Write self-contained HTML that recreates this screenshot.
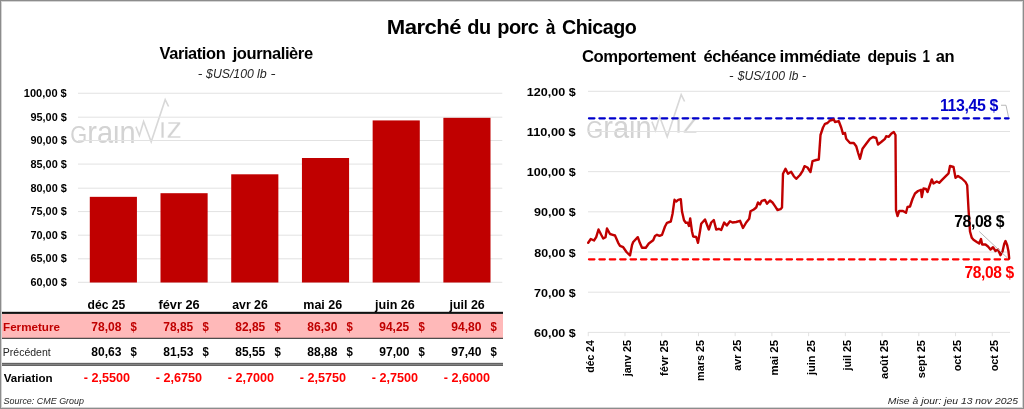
<!DOCTYPE html>
<html lang="fr"><head><meta charset="utf-8"><title>Marché du porc à Chicago</title>
<style>
html,body{margin:0;padding:0;background:#fff}
svg{display:block}
text{font-family:"Liberation Sans",sans-serif;fill:#000}
.b{font-weight:bold}
.i{font-style:italic}
</style></head><body>
<svg width="1024" height="409" viewBox="0 0 1024 409">
<rect x="0" y="0" width="1024" height="409" fill="#fff"/>
<g id="shapes">
<g transform="translate(0,0)"><clipPath id="cq0"><rect x="60" y="125.6" width="80" height="20"/></clipPath><text x="70.3" y="142.9" font-size="32" style="fill:#d3d3d3" clip-path="url(#cq0)" textLength="65.3" lengthAdjust="spacingAndGlyphs"><tspan font-size="24">G</tspan>rain</text><polyline points="135.9,126.6 139.4,135.6 143.6,121.5 151.2,141.8 165.2,99.7 168.6,106.5" fill="none" stroke="#d8d8d8" stroke-width="1.6" stroke-linejoin="miter"/><clipPath id="cp0"><rect x="155" y="121.5" width="40" height="20"/></clipPath><text x="159.1" y="137.5" font-size="30" style="fill:#d3d3d3" stroke="#fff" stroke-width="0.4" clip-path="url(#cp0)" textLength="23.1" lengthAdjust="spacingAndGlyphs">iz</text></g>
<g transform="translate(516,-5.0)"><clipPath id="cq516"><rect x="60" y="125.6" width="80" height="20"/></clipPath><text x="70.3" y="142.9" font-size="32" style="fill:#d3d3d3" clip-path="url(#cq516)" textLength="65.3" lengthAdjust="spacingAndGlyphs"><tspan font-size="24">G</tspan>rain</text><polyline points="135.9,126.6 139.4,135.6 143.6,121.5 151.2,141.8 165.2,99.7 168.6,106.5" fill="none" stroke="#d8d8d8" stroke-width="1.6" stroke-linejoin="miter"/><clipPath id="cp516"><rect x="155" y="121.5" width="40" height="20"/></clipPath><text x="159.1" y="137.5" font-size="30" style="fill:#d3d3d3" stroke="#fff" stroke-width="0.4" clip-path="url(#cp516)" textLength="23.1" lengthAdjust="spacingAndGlyphs">iz</text></g>
<line x1="78" x2="502.3" y1="93.25" y2="93.25" stroke="#e2e2e2" stroke-width="1"/>
<line x1="78" x2="502.3" y1="117.20" y2="117.20" stroke="#e2e2e2" stroke-width="1"/>
<line x1="78" x2="502.3" y1="140.50" y2="140.50" stroke="#e2e2e2" stroke-width="1"/>
<line x1="78" x2="502.3" y1="164.10" y2="164.10" stroke="#e2e2e2" stroke-width="1"/>
<line x1="78" x2="502.3" y1="188.20" y2="188.20" stroke="#e2e2e2" stroke-width="1"/>
<line x1="78" x2="502.3" y1="211.60" y2="211.60" stroke="#e2e2e2" stroke-width="1"/>
<line x1="78" x2="502.3" y1="235.20" y2="235.20" stroke="#e2e2e2" stroke-width="1"/>
<line x1="78" x2="502.3" y1="258.80" y2="258.80" stroke="#e2e2e2" stroke-width="1"/>
<line x1="78" x2="502.3" y1="282.30" y2="282.30" stroke="#e2e2e2" stroke-width="1"/>
<rect x="89.79" y="196.84" width="47.14" height="85.66" fill="#c00000"/>
<rect x="160.50" y="193.20" width="47.14" height="89.30" fill="#c00000"/>
<rect x="231.22" y="174.30" width="47.14" height="108.20" fill="#c00000"/>
<rect x="301.94" y="158.00" width="47.14" height="124.50" fill="#c00000"/>
<rect x="372.65" y="120.42" width="47.14" height="162.08" fill="#c00000"/>
<rect x="443.37" y="117.83" width="47.14" height="164.67" fill="#c00000"/>
<rect x="1" y="314" width="502" height="24" fill="#ffb9b9"/>
<rect x="1" y="311.8" width="502" height="2.1" fill="#111"/>
<rect x="1" y="337.8" width="502" height="1" fill="#222"/>
<rect x="1" y="362.9" width="502" height="3" fill="#888"/>
<rect x="1" y="362.9" width="502" height="1" fill="#606060"/>
<rect x="1" y="364.9" width="502" height="1" fill="#606060"/>
<line x1="588" x2="1010" y1="91.30" y2="91.30" stroke="#e2e2e2" stroke-width="1"/>
<line x1="588" x2="1010" y1="131.48" y2="131.48" stroke="#e2e2e2" stroke-width="1"/>
<line x1="588" x2="1010" y1="171.66" y2="171.66" stroke="#e2e2e2" stroke-width="1"/>
<line x1="588" x2="1010" y1="211.84" y2="211.84" stroke="#e2e2e2" stroke-width="1"/>
<line x1="588" x2="1010" y1="252.02" y2="252.02" stroke="#e2e2e2" stroke-width="1"/>
<line x1="588" x2="1010" y1="292.20" y2="292.20" stroke="#e2e2e2" stroke-width="1"/>
<line x1="588" x2="1010" y1="332.38" y2="332.38" stroke="#e2e2e2" stroke-width="1"/>
<line x1="588.25" x2="588.25" y1="332" y2="336.2" stroke="#e2e2e2" stroke-width="1"/>
<line x1="624.98" x2="624.98" y1="332" y2="336.2" stroke="#e2e2e2" stroke-width="1"/>
<line x1="661.71" x2="661.71" y1="332" y2="336.2" stroke="#e2e2e2" stroke-width="1"/>
<line x1="698.44" x2="698.44" y1="332" y2="336.2" stroke="#e2e2e2" stroke-width="1"/>
<line x1="735.17" x2="735.17" y1="332" y2="336.2" stroke="#e2e2e2" stroke-width="1"/>
<line x1="771.90" x2="771.90" y1="332" y2="336.2" stroke="#e2e2e2" stroke-width="1"/>
<line x1="808.63" x2="808.63" y1="332" y2="336.2" stroke="#e2e2e2" stroke-width="1"/>
<line x1="845.36" x2="845.36" y1="332" y2="336.2" stroke="#e2e2e2" stroke-width="1"/>
<line x1="882.09" x2="882.09" y1="332" y2="336.2" stroke="#e2e2e2" stroke-width="1"/>
<line x1="918.82" x2="918.82" y1="332" y2="336.2" stroke="#e2e2e2" stroke-width="1"/>
<line x1="955.55" x2="955.55" y1="332" y2="336.2" stroke="#e2e2e2" stroke-width="1"/>
<line x1="992.28" x2="992.28" y1="332" y2="336.2" stroke="#e2e2e2" stroke-width="1"/>
<line x1="588.98" x2="1008.6" y1="118.25" y2="118.25" stroke="#0000cc" stroke-width="2.25" stroke-dasharray="5.45,4.95" stroke-linecap="round"/>
<line x1="588.98" x2="1008.6" y1="259.25" y2="259.25" stroke="#ff0000" stroke-width="2.25" stroke-dasharray="5.45,4.95" stroke-linecap="round"/>
<polyline points="588.2,242.8 590.8,239.0 594.0,240.5 596.2,237.2 598.5,229.5 601.2,234.8 603.2,238.5 605.5,237.2 607.0,228.5 610.0,234.0 612.8,234.8 615.0,235.5 618.2,242.8 620.0,245.8 623.2,247.2 626.5,252.0 630.0,255.5 632.0,245.2 633.2,242.0 637.8,237.2 639.8,242.8 642.0,247.8 645.8,247.8 648.8,243.5 651.5,241.5 653.2,240.2 655.0,236.0 657.0,234.8 659.5,235.8 662.0,234.8 665.0,226.5 667.0,222.8 670.8,221.5 672.5,214.0 674.5,199.8 676.2,201.5 678.2,199.8 680.8,199.2 682.0,211.5 684.0,220.2 685.8,222.8 687.8,222.8 689.0,226.0 690.2,218.5 692.0,231.5 693.2,236.5 696.2,237.0 698.0,242.8 700.0,231.2 701.2,223.8 705.0,219.5 708.8,229.5 711.2,222.5 713.8,220.0 716.2,229.5 718.8,228.8 721.2,230.0 724.2,222.5 726.8,225.5 730.0,221.2 732.5,222.5 736.2,222.0 740.0,220.8 743.0,228.0 746.2,222.5 749.2,218.8 750.5,211.2 753.8,209.5 756.2,207.5 758.0,202.5 760.0,204.5 761.8,200.8 765.0,200.0 767.0,203.8 770.0,200.5 772.5,202.5 775.0,206.2 777.5,210.0 780.5,209.2 782.0,207.5 783.0,173.8 785.5,168.8 788.0,173.8 791.2,171.8 793.8,176.2 796.2,178.8 800.0,175.0 802.5,171.2 804.5,166.2 807.5,167.5 810.5,172.0 812.5,161.2 816.2,160.0 818.8,159.5 820.5,135.0 823.0,127.5 825.0,123.8 827.5,123.0 830.0,120.5 833.8,119.5 835.0,122.0 838.8,121.2 841.2,127.5 843.0,133.8 845.0,133.0 846.2,138.8 850.0,143.0 853.8,143.0 856.2,146.2 858.0,152.5 860.0,158.8 862.5,148.8 866.2,143.8 870.0,138.8 873.0,137.0 876.2,138.0 878.0,144.5 881.2,142.0 885.0,138.8 886.2,136.2 888.8,136.8 891.2,133.8 893.8,132.0 895.5,135.0 896.0,210.2 897.5,216.0 899.2,211.0 903.0,211.0 906.0,212.8 907.5,207.0 910.0,206.5 912.5,199.0 915.0,193.5 918.0,191.0 921.0,189.8 921.8,197.0 923.5,188.5 926.0,189.0 927.5,192.0 931.8,179.5 933.5,183.5 936.8,181.5 939.2,182.8 941.8,180.2 946.8,175.2 948.5,173.5 950.0,166.0 953.5,167.0 955.5,177.8 958.0,176.0 961.8,178.5 965.5,182.0 967.2,185.2 968.5,209.0 970.0,231.5 971.8,237.8 973.5,239.8 976.8,242.0 979.2,243.5 981.0,239.0 982.2,244.5 985.5,244.5 988.0,246.5 990.5,249.5 993.0,247.2 995.5,251.0 998.0,249.5 1000.5,255.2 1002.5,251.5 1004.2,244.0 1005.5,241.0 1007.2,245.2 1008.5,251.5 1009.2,258.5" fill="none" stroke="#c00000" stroke-width="2.4" stroke-linejoin="round" stroke-linecap="round"/>
<polyline points="1001,105.25 1006,105.25 1008.5,117" fill="none" stroke="#b0b0b0" stroke-width="0.9"/>
<line x1="979.25" y1="231.5" x2="1007.5" y2="258" stroke="#b0b0b0" stroke-width="0.9"/>
<rect x="1.5" y="1.5" width="1021" height="406" fill="none" stroke="#d4d4d4" stroke-width="1"/>
<rect x="0.5" y="0.5" width="1023" height="408" fill="none" stroke="#8c8c8c" stroke-width="1"/>
</g>
<g id="texts">
<text id="t0" x="386.85" y="34.4" font-size="20" class="b" style="fill:#000;letter-spacing:-0.5px" textLength="74.14" lengthAdjust="spacingAndGlyphs">Marché</text>
<text id="t1" x="467.25" y="34.4" font-size="20" class="b" style="fill:#000;letter-spacing:-0.5px" textLength="23.35" lengthAdjust="spacingAndGlyphs">du</text>
<text id="t2" x="497.18" y="34.4" font-size="20" class="b" style="fill:#000;letter-spacing:-0.5px" textLength="41.30" lengthAdjust="spacingAndGlyphs">porc</text>
<text id="t3" x="545.84" y="34.4" font-size="20" class="b" style="fill:#000;letter-spacing:-0.5px" textLength="9.27" lengthAdjust="spacingAndGlyphs">à</text>
<text id="t4" x="562.04" y="34.4" font-size="20" class="b" style="fill:#000;letter-spacing:-0.5px" textLength="74.22" lengthAdjust="spacingAndGlyphs">Chicago</text>
<text id="t5" x="159.57" y="59.2" font-size="16.5" class="b" style="fill:#000;letter-spacing:-0.4px" textLength="65.71" lengthAdjust="spacingAndGlyphs">Variation</text>
<text id="t6" x="232.67" y="59.2" font-size="16.5" class="b" style="fill:#000;letter-spacing:-0.4px" textLength="80.01" lengthAdjust="spacingAndGlyphs">journalière</text>
<text id="t7" x="197.72" y="77.9" font-size="13.5" class="i" style="fill:#262626" textLength="4.62" lengthAdjust="spacingAndGlyphs">-</text>
<text id="t8" x="206.07" y="77.9" font-size="13.5" class="i" style="fill:#262626" textLength="47.75" lengthAdjust="spacingAndGlyphs">$US/100</text>
<text id="t9" x="256.96" y="77.9" font-size="13.5" class="i" style="fill:#262626" textLength="9.73" lengthAdjust="spacingAndGlyphs">lb</text>
<text id="t10" x="270.48" y="77.9" font-size="13.5" class="i" style="fill:#262626" textLength="5.04" lengthAdjust="spacingAndGlyphs">-</text>
<text id="t11" x="581.92" y="61.7" font-size="16.5" class="b" style="fill:#000;letter-spacing:-0.4px" textLength="113.81" lengthAdjust="spacingAndGlyphs">Comportement</text>
<text id="t12" x="703.38" y="61.7" font-size="16.5" class="b" style="fill:#000;letter-spacing:-0.4px" textLength="72.34" lengthAdjust="spacingAndGlyphs">échéance</text>
<text id="t13" x="779.56" y="61.7" font-size="16.5" class="b" style="fill:#000;letter-spacing:-0.4px" textLength="80.88" lengthAdjust="spacingAndGlyphs">immédiate</text>
<text id="t14" x="867.52" y="61.7" font-size="16.5" class="b" style="fill:#000;letter-spacing:-0.4px" textLength="48.86" lengthAdjust="spacingAndGlyphs">depuis</text>
<text id="t15" x="922.39" y="61.7" font-size="16.5" class="b" style="fill:#000;letter-spacing:-0.4px" textLength="7.12" lengthAdjust="spacingAndGlyphs">1</text>
<text id="t16" x="935.76" y="61.7" font-size="16.5" class="b" style="fill:#000;letter-spacing:-0.4px" textLength="18.43" lengthAdjust="spacingAndGlyphs">an</text>
<text id="t17" x="729.07" y="79.6" font-size="13.5" class="i" style="fill:#262626" textLength="4.55" lengthAdjust="spacingAndGlyphs">-</text>
<text id="t18" x="737.64" y="79.6" font-size="13.5" class="i" style="fill:#262626" textLength="47.51" lengthAdjust="spacingAndGlyphs">$US/100</text>
<text id="t19" x="789.03" y="79.6" font-size="13.5" class="i" style="fill:#262626" textLength="9.25" lengthAdjust="spacingAndGlyphs">lb</text>
<text id="t20" x="802.08" y="79.6" font-size="13.5" class="i" style="fill:#262626" textLength="4.13" lengthAdjust="spacingAndGlyphs">-</text>
<text id="t21" x="23.77" y="96.7" font-size="10.2" class="b" style="fill:#000" textLength="43.00" lengthAdjust="spacingAndGlyphs">100,00 $</text>
<text id="t22" x="30.46" y="120.65" font-size="10.2" class="b" style="fill:#000" textLength="36.33" lengthAdjust="spacingAndGlyphs">95,00 $</text>
<text id="t23" x="30.46" y="143.95" font-size="10.2" class="b" style="fill:#000" textLength="36.33" lengthAdjust="spacingAndGlyphs">90,00 $</text>
<text id="t24" x="30.45" y="167.55" font-size="10.2" class="b" style="fill:#000" textLength="36.35" lengthAdjust="spacingAndGlyphs">85,00 $</text>
<text id="t25" x="30.45" y="191.65" font-size="10.2" class="b" style="fill:#000" textLength="36.35" lengthAdjust="spacingAndGlyphs">80,00 $</text>
<text id="t26" x="30.46" y="215.05" font-size="10.2" class="b" style="fill:#000" textLength="36.33" lengthAdjust="spacingAndGlyphs">75,00 $</text>
<text id="t27" x="30.46" y="238.65" font-size="10.2" class="b" style="fill:#000" textLength="36.33" lengthAdjust="spacingAndGlyphs">70,00 $</text>
<text id="t28" x="30.46" y="262.25" font-size="10.2" class="b" style="fill:#000" textLength="36.33" lengthAdjust="spacingAndGlyphs">65,00 $</text>
<text id="t29" x="30.46" y="285.75" font-size="10.2" class="b" style="fill:#000" textLength="36.33" lengthAdjust="spacingAndGlyphs">60,00 $</text>
<text id="t30" x="526.79" y="95.9" font-size="11.6" class="b" style="fill:#000" textLength="48.92" lengthAdjust="spacingAndGlyphs">120,00 $</text>
<text id="t31" x="526.79" y="136.08" font-size="11.6" class="b" style="fill:#000" textLength="48.92" lengthAdjust="spacingAndGlyphs">110,00 $</text>
<text id="t32" x="526.79" y="176.26" font-size="11.6" class="b" style="fill:#000" textLength="48.92" lengthAdjust="spacingAndGlyphs">100,00 $</text>
<text id="t33" x="534.01" y="216.44" font-size="11.6" class="b" style="fill:#000" textLength="41.73" lengthAdjust="spacingAndGlyphs">90,00 $</text>
<text id="t34" x="534.25" y="256.62" font-size="11.6" class="b" style="fill:#000" textLength="41.50" lengthAdjust="spacingAndGlyphs">80,00 $</text>
<text id="t35" x="534.01" y="296.8" font-size="11.6" class="b" style="fill:#000" textLength="41.73" lengthAdjust="spacingAndGlyphs">70,00 $</text>
<text id="t36" x="534.01" y="336.98" font-size="11.6" class="b" style="fill:#000" textLength="41.73" lengthAdjust="spacingAndGlyphs">60,00 $</text>
<text id="t37" x="87.53" y="308.5" font-size="12.5" class="b" style="fill:#000" textLength="37.70" lengthAdjust="spacingAndGlyphs">déc 25</text>
<text id="t38" x="158.52" y="308.5" font-size="12.5" class="b" style="fill:#000" textLength="41.20" lengthAdjust="spacingAndGlyphs">févr 26</text>
<text id="t39" x="232.26" y="308.5" font-size="12.5" class="b" style="fill:#000" textLength="35.48" lengthAdjust="spacingAndGlyphs">avr 26</text>
<text id="t40" x="303.28" y="308.5" font-size="12.5" class="b" style="fill:#000" textLength="38.94" lengthAdjust="spacingAndGlyphs">mai 26</text>
<text id="t41" x="375.01" y="308.5" font-size="12.5" class="b" style="fill:#000" textLength="39.74" lengthAdjust="spacingAndGlyphs">juin 26</text>
<text id="t42" x="449.50" y="308.5" font-size="12.5" class="b" style="fill:#000" textLength="35.26" lengthAdjust="spacingAndGlyphs">juil 26</text>
<text id="t43" x="91.33" y="331" font-size="12.8" class="b" style="fill:#c00000" textLength="30.15" lengthAdjust="spacingAndGlyphs">78,08</text>
<text id="t44" x="130.61" y="331" font-size="12.8" class="b" style="fill:#c00000" textLength="6.33" lengthAdjust="spacingAndGlyphs">$</text>
<text id="t45" x="91.33" y="355.9" font-size="12.8" class="b" style="fill:#000" textLength="30.15" lengthAdjust="spacingAndGlyphs">80,63</text>
<text id="t46" x="130.61" y="355.9" font-size="12.8" class="b" style="fill:#000" textLength="6.33" lengthAdjust="spacingAndGlyphs">$</text>
<text id="t47" x="83.78" y="382" font-size="12.8" class="b" style="fill:#ff0000" textLength="46.35" lengthAdjust="spacingAndGlyphs">- 2,5500</text>
<text id="t48" x="163.32" y="331" font-size="12.8" class="b" style="fill:#c00000" textLength="29.92" lengthAdjust="spacingAndGlyphs">78,85</text>
<text id="t49" x="202.61" y="331" font-size="12.8" class="b" style="fill:#c00000" textLength="6.33" lengthAdjust="spacingAndGlyphs">$</text>
<text id="t50" x="163.33" y="355.9" font-size="12.8" class="b" style="fill:#000" textLength="30.15" lengthAdjust="spacingAndGlyphs">81,53</text>
<text id="t51" x="202.61" y="355.9" font-size="12.8" class="b" style="fill:#000" textLength="6.33" lengthAdjust="spacingAndGlyphs">$</text>
<text id="t52" x="155.78" y="382" font-size="12.8" class="b" style="fill:#ff0000" textLength="46.35" lengthAdjust="spacingAndGlyphs">- 2,6750</text>
<text id="t53" x="235.32" y="331" font-size="12.8" class="b" style="fill:#c00000" textLength="29.91" lengthAdjust="spacingAndGlyphs">82,85</text>
<text id="t54" x="274.61" y="331" font-size="12.8" class="b" style="fill:#c00000" textLength="6.33" lengthAdjust="spacingAndGlyphs">$</text>
<text id="t55" x="235.32" y="355.9" font-size="12.8" class="b" style="fill:#000" textLength="29.91" lengthAdjust="spacingAndGlyphs">85,55</text>
<text id="t56" x="274.61" y="355.9" font-size="12.8" class="b" style="fill:#000" textLength="6.33" lengthAdjust="spacingAndGlyphs">$</text>
<text id="t57" x="227.78" y="382" font-size="12.8" class="b" style="fill:#ff0000" textLength="46.35" lengthAdjust="spacingAndGlyphs">- 2,7000</text>
<text id="t58" x="307.33" y="331" font-size="12.8" class="b" style="fill:#c00000" textLength="30.15" lengthAdjust="spacingAndGlyphs">86,30</text>
<text id="t59" x="346.61" y="331" font-size="12.8" class="b" style="fill:#c00000" textLength="6.33" lengthAdjust="spacingAndGlyphs">$</text>
<text id="t60" x="307.32" y="355.9" font-size="12.8" class="b" style="fill:#000" textLength="30.16" lengthAdjust="spacingAndGlyphs">88,88</text>
<text id="t61" x="346.61" y="355.9" font-size="12.8" class="b" style="fill:#000" textLength="6.33" lengthAdjust="spacingAndGlyphs">$</text>
<text id="t62" x="299.78" y="382" font-size="12.8" class="b" style="fill:#ff0000" textLength="46.35" lengthAdjust="spacingAndGlyphs">- 2,5750</text>
<text id="t63" x="379.32" y="331" font-size="12.8" class="b" style="fill:#c00000" textLength="29.91" lengthAdjust="spacingAndGlyphs">94,25</text>
<text id="t64" x="418.61" y="331" font-size="12.8" class="b" style="fill:#c00000" textLength="6.33" lengthAdjust="spacingAndGlyphs">$</text>
<text id="t65" x="379.32" y="355.9" font-size="12.8" class="b" style="fill:#000" textLength="30.15" lengthAdjust="spacingAndGlyphs">97,00</text>
<text id="t66" x="418.61" y="355.9" font-size="12.8" class="b" style="fill:#000" textLength="6.33" lengthAdjust="spacingAndGlyphs">$</text>
<text id="t67" x="371.78" y="382" font-size="12.8" class="b" style="fill:#ff0000" textLength="46.35" lengthAdjust="spacingAndGlyphs">- 2,7500</text>
<text id="t68" x="451.33" y="331" font-size="12.8" class="b" style="fill:#c00000" textLength="30.15" lengthAdjust="spacingAndGlyphs">94,80</text>
<text id="t69" x="490.61" y="331" font-size="12.8" class="b" style="fill:#c00000" textLength="6.33" lengthAdjust="spacingAndGlyphs">$</text>
<text id="t70" x="451.32" y="355.9" font-size="12.8" class="b" style="fill:#000" textLength="30.15" lengthAdjust="spacingAndGlyphs">97,40</text>
<text id="t71" x="490.61" y="355.9" font-size="12.8" class="b" style="fill:#000" textLength="6.33" lengthAdjust="spacingAndGlyphs">$</text>
<text id="t72" x="443.78" y="382" font-size="12.8" class="b" style="fill:#ff0000" textLength="46.35" lengthAdjust="spacingAndGlyphs">- 2,6000</text>
<text id="t73" x="3.05" y="330.7" font-size="11.2" class="b" style="fill:#c00000" textLength="56.90" lengthAdjust="spacingAndGlyphs">Fermeture</text>
<text id="t74" x="2.79" y="355.8" font-size="11.2" class="" style="fill:#262626" textLength="47.92" lengthAdjust="spacingAndGlyphs">Précédent</text>
<text id="t75" x="3.77" y="382" font-size="11.2" class="b" style="fill:#000" textLength="48.95" lengthAdjust="spacingAndGlyphs">Variation</text>
<text id="t76" x="3.52" y="404" font-size="9.7" class="i" style="fill:#262626" textLength="80.47" lengthAdjust="spacingAndGlyphs">Source: CME Group</text>
<text id="t77" x="887.76" y="404" font-size="9.7" class="i" style="fill:#262626" textLength="130.23" lengthAdjust="spacingAndGlyphs">Mise à jour: jeu 13 nov 2025</text>
<text id="t78" x="940.02" y="111.2" font-size="16.5" class="b" style="fill:#0000cc;letter-spacing:-0.4px" textLength="58.01" lengthAdjust="spacingAndGlyphs">113,45 $</text>
<text id="t79" x="954.27" y="226.7" font-size="16.3" class="b" style="fill:#000;letter-spacing:-0.4px" textLength="49.72" lengthAdjust="spacingAndGlyphs">78,08 $</text>
<text id="t80" x="964.56" y="277.8" font-size="16.3" class="b" style="fill:#ff0000;letter-spacing:-0.4px" textLength="49.32" lengthAdjust="spacingAndGlyphs">78,08 $</text>
<text id="t81" transform="translate(594.15,340.28) rotate(-90)" text-anchor="end" font-size="11.8" class="b" style="fill:#000" textLength="32.46" lengthAdjust="spacingAndGlyphs">déc 24</text>
<text id="t82" transform="translate(630.88,340.06) rotate(-90)" text-anchor="end" font-size="11.8" class="b" style="fill:#000" textLength="36.27" lengthAdjust="spacingAndGlyphs">janv 25</text>
<text id="t83" transform="translate(667.61,340.04) rotate(-90)" text-anchor="end" font-size="11.8" class="b" style="fill:#000" textLength="35.97" lengthAdjust="spacingAndGlyphs">févr 25</text>
<text id="t84" transform="translate(704.34,340.01) rotate(-90)" text-anchor="end" font-size="11.8" class="b" style="fill:#000" textLength="40.93" lengthAdjust="spacingAndGlyphs">mars 25</text>
<text id="t85" transform="translate(741.07,339.79) rotate(-90)" text-anchor="end" font-size="11.8" class="b" style="fill:#000" textLength="30.98" lengthAdjust="spacingAndGlyphs">avr 25</text>
<text id="t86" transform="translate(777.8,340.03) rotate(-90)" text-anchor="end" font-size="11.8" class="b" style="fill:#000" textLength="35.46" lengthAdjust="spacingAndGlyphs">mai 25</text>
<text id="t87" transform="translate(814.53,340.05) rotate(-90)" text-anchor="end" font-size="11.8" class="b" style="fill:#000" textLength="35.01" lengthAdjust="spacingAndGlyphs">juin 25</text>
<text id="t88" transform="translate(851.26,340.06) rotate(-90)" text-anchor="end" font-size="11.8" class="b" style="fill:#000" textLength="30.52" lengthAdjust="spacingAndGlyphs">juil 25</text>
<text id="t89" transform="translate(887.99,339.79) rotate(-90)" text-anchor="end" font-size="11.8" class="b" style="fill:#000" textLength="39.22" lengthAdjust="spacingAndGlyphs">août 25</text>
<text id="t90" transform="translate(924.72,340.03) rotate(-90)" text-anchor="end" font-size="11.8" class="b" style="fill:#000" textLength="38.20" lengthAdjust="spacingAndGlyphs">sept 25</text>
<text id="t91" transform="translate(961.45,340.03) rotate(-90)" text-anchor="end" font-size="11.8" class="b" style="fill:#000" textLength="31.20" lengthAdjust="spacingAndGlyphs">oct 25</text>
<text id="t92" transform="translate(998.18,340.03) rotate(-90)" text-anchor="end" font-size="11.8" class="b" style="fill:#000" textLength="31.20" lengthAdjust="spacingAndGlyphs">oct 25</text>
</g>
</svg>
</body></html>
